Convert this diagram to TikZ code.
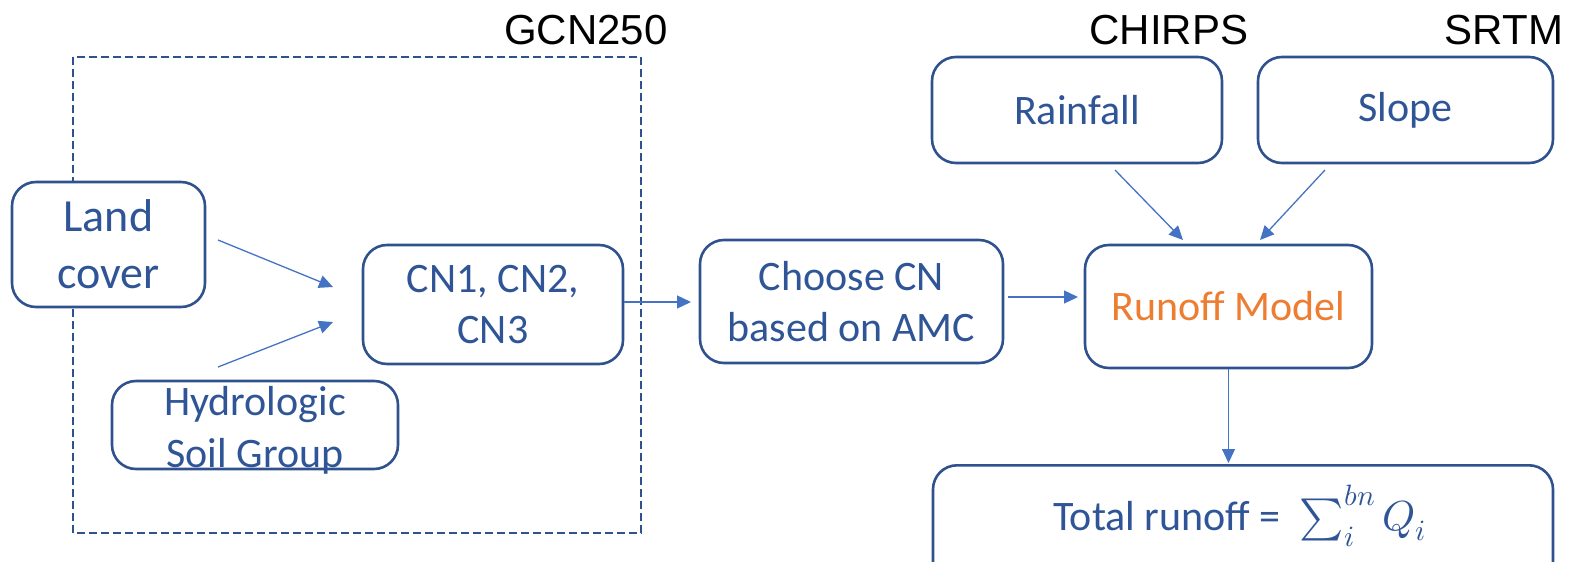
\documentclass[tikz,border=0pt]{standalone}
\usepackage{fontspec}
\usepackage{unicode-math}
\setmainfont{Carlito}
\setmathfont{Latin Modern Math}
\newfontfamily\arialfont{Liberation Sans}
\usetikzlibrary{arrows.meta}
\definecolor{bordc}{HTML}{2F528F}
\definecolor{txtc}{HTML}{2F5597}
\definecolor{arrc}{HTML}{4472C4}
\definecolor{orc}{HTML}{ED7D31}
\tikzset{
  box/.style={draw=bordc, line width=2.6pt, rounded corners=24pt, fill=white,
    text=txtc, align=center, inner sep=0pt, font=\fontsize{42}{51}\selectfont},
  arr/.style={draw=arrc, line width=1.3pt, -{Triangle[length=14pt,width=13pt]}},
  srclabel/.style={font=\arialfont\fontsize{42}{50}\selectfont, text=black, inner sep=0pt},
  dashbox/.style={draw=bordc, line width=2.4pt, dash pattern=on 8pt off 4pt}
}
\begin{document}
\begin{tikzpicture}[x=1pt,y=-1pt]
\useasboundingbox (0,0) rectangle (1571,562);
% dashed GCN250 frame
\draw[dashbox] (73,57) rectangle (641,533);
\node[srclabel] (gcn) at (586,30) {GCN250};
\node[srclabel] (chirps) at (1169,30) {CHIRPS};
\node[srclabel] (srtm) at (1504,30) {SRTM};

% boxes
\node[box, minimum width=193pt, minimum height=125pt, font=\fontsize{46}{57}\selectfont] (lc) at (108.5,244.5) {Land\\cover};
\node[box, minimum width=286pt, minimum height=88pt] (hsg) at (255,425) {};
\node[text=txtc, align=center, inner sep=0pt, font=\fontsize{42}{52}\selectfont] (hsgt) at (255,430) {Hydrologic\\Soil Group};
\node[box, minimum width=260pt, minimum height=119pt] (cn) at (493,304.5) {CN1, CN2,\\CN3};
\node[box, minimum width=303pt, minimum height=123pt] (choose) at (851.5,301.5) {Choose CN\\based on AMC};
\node[box, minimum width=287pt, minimum height=123pt, text=orc] (runoff) at (1228.5,306.5) {Runoff Model};
\node[box, minimum width=290pt, minimum height=106pt] (rain) at (1077,110) {Rainfall};
\node[box, minimum width=295pt, minimum height=106pt] (slope) at (1405.5,110) {Slope};
\node[box, minimum width=620pt, minimum height=126pt, anchor=north] (total) at (1243,464) {};
\node[text=txtc, inner sep=0pt, font=\fontsize{42}{51}\selectfont, anchor=base west] (totalt) at (1053,530) {Total runoff = \ $\sum_{i}^{bn} Q_i$};

% connector end points
\coordinate (lcs) at (218,240);
\coordinate (lce) at (333,287);
\coordinate (hss) at (218,367);
\coordinate (hse) at (333,322);
\coordinate (cne) at (691,302);
\coordinate (chs) at (1008,297);
\coordinate (che) at (1078,297);
\coordinate (rs) at (1115,170);
\coordinate (re) at (1183,240);
\coordinate (ss) at (1325,170);
\coordinate (se) at (1260,240);
\coordinate (te) at (1228.5,463);

\draw[arr] (lcs) -- (lce);
\draw[arr] (hss) -- (hse);
\draw[arr] (cn.east |- cne) -- (cne);
\draw[arr] (chs) -- (che);
\draw[arr] (rs) -- (re);
\draw[arr] (ss) -- (se);
\draw[arr] (runoff.south) -- (te);
\end{tikzpicture}
\end{document}
